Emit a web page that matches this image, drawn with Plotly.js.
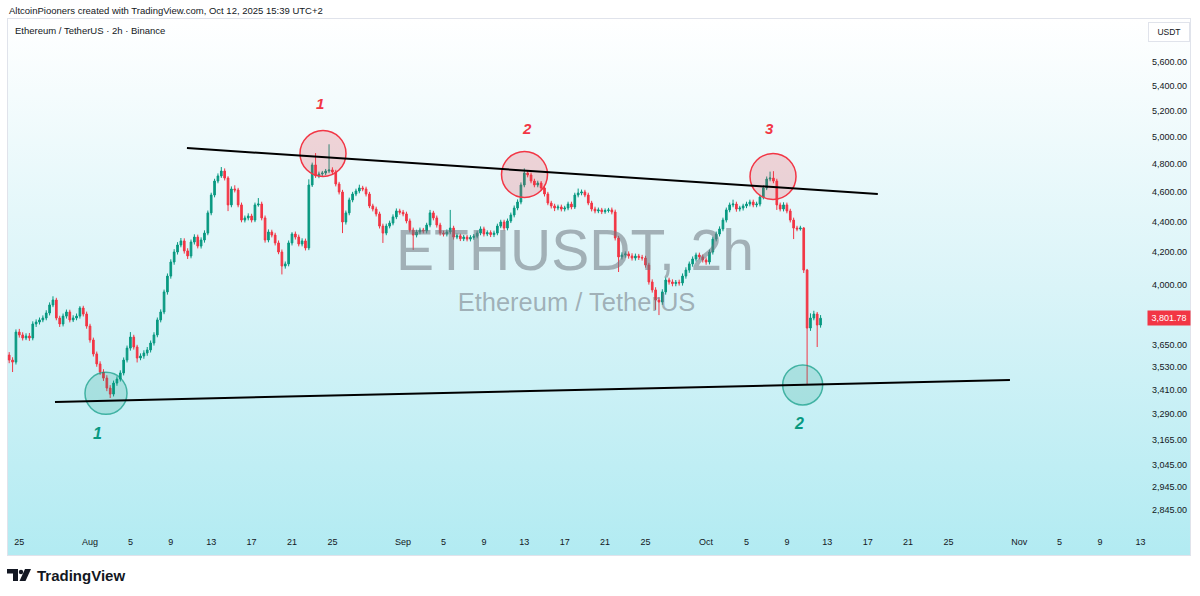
<!DOCTYPE html>
<html><head><meta charset="utf-8">
<script src="https://cdn.plot.ly/plotly-3.0.1.min.js"></script>
<style>
html,body{margin:0;padding:0;background:#ffffff;width:1200px;height:596px;overflow:hidden;}
#frame{position:absolute;left:7px;top:18px;width:1184px;height:538px;box-sizing:border-box;border:1px solid #e0e3eb;
background:linear-gradient(to bottom,#ffffff 0%,#daf4f8 50%,#b2ebf2 100%);}
#chart{position:absolute;left:0;top:0;width:1200px;height:596px;}
</style></head><body>
<div id="frame"></div><div id="chart"></div>
<script>
// ---- Data (ETHUSDT, 8h candles) ----
const START_TIME = Date.UTC(2025, 6, 24, 0, 0);
const STEP_HOURS = 8;
const OPEN = [3596,3569,3558,3723,3707,3690,3701,3690,3769,3780,
3792,3803,3832,3879,3908,3803,3769,3814,3838,3792,
3803,3814,3861,3826,3757,3679,3602,3548,3505,3473,
3421,3390,3447,3468,3500,3569,3634,3695,3640,3580,
3591,3607,3624,3662,3707,3792,3838,3956,4052,4139,
4202,4247,4273,4209,4177,4266,4298,4240,4279,4324,
4458,4580,4678,4714,4749,4699,4512,4622,4615,4512,
4410,4424,4437,4410,4512,4518,4424,4279,4331,4311,
4260,4202,4114,4127,4260,4318,4298,4253,4273,4228,
4650,4793,4714,4728,4735,4749,4757,4742,4657,4601,
4397,4458,4546,4587,4608,4629,4622,4587,4505,4484,
4451,4370,4324,4370,4390,4431,4471,4462,4451,4404,
4344,4311,4331,4344,4338,4377,4458,4424,4377,4324,
4318,4331,4357,4298,4306,4287,4298,4285,4296,4304,
4324,4351,4318,4327,4314,4324,4370,4397,4357,4404,
4444,4491,4532,4650,4735,4721,4678,4650,4664,4629,
4587,4525,4505,4491,4498,4484,4491,4518,4498,4580,
4594,4601,4580,4525,4484,4471,4478,4466,4474,4478,
4464,4292,4171,4183,4190,4177,4164,4176,4168,4164,
4120,4016,3968,3908,3896,3956,4028,4016,4006,4014,
4010,4052,4089,4127,4158,4183,4171,4152,4139,4202,
4285,4318,4351,4410,4478,4512,4518,4484,4491,4505,
4518,4532,4512,4518,4566,4629,4692,4699,4678,4512,
4484,4512,4471,4410,4357,4351,4357,4089,3746,3803,
3826,3763];
const HIGH = [3612,3584,3738,3741,3722,3716,3718,3784,3795,3806,
3818,3848,3894,3930,3921,3816,3829,3852,3851,3819,
3829,3872,3874,3840,3770,3692,3615,3562,3520,3488,
3436,3460,3482,3514,3583,3648,3723,3708,3652,3605,
3622,3640,3676,3722,3806,3853,3970,4068,4156,4220,
4265,4292,4290,4226,4282,4316,4314,4296,4342,4474,
4596,4694,4732,4778,4768,4712,4640,4648,4630,4528,
4440,4455,4452,4528,4559,4534,4440,4348,4346,4326,
4276,4218,4142,4276,4330,4334,4314,4290,4288,4690,
4810,4880,4745,4750,4764,4945,4776,4758,4672,4616,
4474,4562,4602,4624,4652,4644,4638,4602,4520,4500,
4466,4386,4386,4406,4448,4488,4486,4478,4466,4420,
4360,4346,4360,4358,4392,4478,4472,4440,4392,4340,
4348,4478,4372,4322,4320,4312,4312,4310,4318,4340,
4368,4366,4342,4342,4340,4386,4412,4412,4420,4460,
4508,4550,4668,4768,4752,4738,4694,4680,4678,4644,
4602,4540,4520,4514,4514,4506,4534,4534,4596,4625,
4618,4616,4596,4540,4500,4494,4492,4488,4492,4494,
4480,4306,4200,4206,4206,4194,4192,4190,4184,4178,
4134,4032,3984,3924,3972,4044,4042,4032,4028,4030,
4068,4106,4142,4174,4198,4198,4186,4168,4218,4300,
4334,4368,4426,4494,4528,4548,4534,4506,4520,4534,
4548,4548,4534,4582,4646,4710,4745,4748,4694,4528,
4530,4528,4486,4426,4372,4372,4364,4096,3830,3845,
3838,3820];
const LOW = [3552,3505,3545,3692,3676,3678,3674,3677,3752,3766,
3779,3790,3818,3866,3790,3752,3755,3800,3778,3780,
3790,3800,3812,3742,3664,3588,3533,3490,3458,3405,
3370,3378,3433,3455,3487,3556,3620,3626,3556,3568,
3576,3592,3610,3648,3694,3778,3825,3940,4036,4122,
4186,4232,4192,4158,4162,4250,4225,4224,4262,4310,
4442,4564,4662,4700,4682,4470,4496,4598,4496,4395,
4394,4408,4394,4396,4500,4408,4262,4264,4296,4244,
4188,4062,4098,4112,4244,4282,4238,4238,4212,4214,
4636,4700,4698,4712,4720,4734,4726,4640,4584,4324,
4380,4442,4530,4572,4592,4606,4570,4490,4468,4434,
4354,4260,4310,4355,4375,4416,4446,4435,4388,4328,
4215,4296,4316,4322,4322,4362,4408,4360,4308,4302,
4302,4316,4282,4284,4272,4272,4270,4270,4281,4290,
4310,4302,4304,4298,4298,4310,4356,4342,4342,4390,
4428,4476,4516,4634,4704,4662,4634,4634,4612,4570,
4510,4488,4470,4476,4468,4468,4476,4482,4484,4564,
4578,4565,4510,4468,4455,4456,4450,4452,4460,4448,
4276,4077,4155,4166,4160,4148,4148,4152,4148,4104,
4000,3952,3850,3820,3880,3940,4000,3990,3990,3994,
3994,4036,4072,4110,4142,4156,4136,4122,4124,4186,
4270,4302,4336,4394,4462,4496,4466,4468,4474,4490,
4502,4496,4496,4502,4550,4614,4676,4662,4478,4468,
4468,4455,4394,4285,4336,4340,4071,3437,3730,3790,
3640,3748];
const CLOSE = [3569,3558,3723,3707,3690,3701,3690,3769,3780,3792,
3803,3832,3879,3908,3803,3769,3814,3838,3792,3803,
3814,3861,3826,3757,3679,3602,3548,3505,3473,3421,
3390,3447,3468,3500,3569,3634,3695,3640,3580,3591,
3607,3624,3662,3707,3792,3838,3956,4052,4139,4202,
4247,4273,4209,4177,4266,4298,4240,4279,4324,4458,
4580,4678,4714,4749,4699,4512,4622,4615,4512,4410,
4424,4437,4410,4512,4518,4424,4279,4331,4311,4260,
4202,4114,4127,4260,4318,4298,4253,4273,4228,4650,
4793,4714,4728,4735,4749,4757,4742,4657,4601,4397,
4458,4546,4587,4608,4629,4622,4587,4505,4484,4451,
4370,4324,4370,4390,4431,4471,4462,4451,4404,4344,
4311,4331,4344,4338,4377,4458,4424,4377,4324,4318,
4331,4357,4298,4306,4287,4298,4285,4296,4304,4324,
4351,4318,4327,4314,4324,4370,4397,4357,4404,4444,
4491,4532,4650,4735,4721,4678,4650,4664,4629,4587,
4525,4505,4491,4498,4484,4491,4518,4498,4580,4594,
4601,4580,4525,4484,4471,4478,4466,4474,4478,4464,
4292,4171,4183,4190,4177,4164,4176,4168,4164,4120,
4016,3968,3908,3896,3956,4028,4016,4006,4014,4010,
4052,4089,4127,4158,4183,4171,4152,4139,4202,4285,
4318,4351,4410,4478,4512,4518,4484,4491,4505,4518,
4532,4512,4518,4566,4629,4692,4699,4678,4512,4484,
4512,4471,4410,4357,4351,4357,4089,3746,3803,3826,
3763,3801.78];
const LAST_PRICE = 3801.78;

// axis ticks
const X_TICK_VALS = ['2025-07-25','2025-08-01','2025-08-05','2025-08-09','2025-08-13','2025-08-17','2025-08-21','2025-08-25',
 '2025-09-01','2025-09-05','2025-09-09','2025-09-13','2025-09-17','2025-09-21','2025-09-25',
 '2025-10-01','2025-10-05','2025-10-09','2025-10-13','2025-10-17','2025-10-21','2025-10-25',
 '2025-11-01','2025-11-05','2025-11-09','2025-11-13'];
const X_TICK_TEXT = ['25','Aug','5','9','13','17','21','25','Sep','5','9','13','17','21','25','Oct','5','9','13','17','21','25','Nov','5','9','13'];
const Y_TICK_VALS = [5600,5400,5200,5000,4800,4600,4400,4200,4000,3650,3530,3410,3290,3165,3045,2945,2845];
const X_RANGE = ['2025-07-23 18:46','2025-11-13 13:18'];
const Y_RANGE = [2760.5, 5985];

// drawings
const TOP_LINE_TIMES = ['2025-08-10 14:24','2025-10-18 00:00'];
const TOP_LINE_PRICES = [4917, 4587];
const BOTTOM_LINE_TIMES = ['2025-07-28 12:45','2025-10-31 02:00'];
const BOTTOM_LINE_PRICES = [3350, 3463];
const RED_CIRCLE_TIMES = ['2025-08-24 01:40','2025-09-13 00:30','2025-10-07 15:00'];
const RED_CIRCLE_PRICES = [4877, 4724, 4710];
const TEAL_CIRCLE_TIMES = ['2025-08-02 14:00','2025-10-10 13:30'];
const TEAL_CIRCLE_PRICES = [3394, 3437];
const RED_LABELS = ['1','2','3'];
const RED_LABEL_TIMES = ['2025-08-23 18:30','2025-09-13 06:30','2025-10-07 05:30'];
const RED_LABEL_PRICES = [5256, 5068, 5061];
const TEAL_LABELS = ['1','2'];
const TEAL_LABEL_TIMES = ['2025-08-01 16:40','2025-10-10 04:50'];
const TEAL_LABEL_PRICES = [3196, 3245];

// ---- build ----
const TIMES = OPEN.map((_, i) => new Date(START_TIME + i * STEP_HOURS * 3600000).toISOString().slice(0,16).replace('T',' '));
const fmt = v => v.toLocaleString('en-US',{minimumFractionDigits:2, maximumFractionDigits:2});

const UP = '#089981', DOWN = '#f23645';
const FONT = '"Liberation Sans", Arial, sans-serif';

// pixel helpers for chrome (outside the plotting area)
const PL = 7, PR = 1146, PT = 18, PB = 530;
const px = x => (x - PL) / (PR - PL);
const py = y => (PB - y) / (PB - PT);

const traces = [
  {type:'scatter', mode:'text', x:['2025-09-18 00:30'], y:[4177], text:['ETHUSDT, 2h'],
   textposition:'middle center', textfont:{family:FONT, size:57, color:'rgba(112,118,128,0.55)'}, hoverinfo:'skip', cliponaxis:false},
  {type:'scatter', mode:'text', x:['2025-09-18 04:00'], y:[3879], text:['Ethereum / TetherUS'],
   textposition:'middle center', textfont:{family:FONT, size:25.5, color:'rgba(112,118,128,0.55)'}, hoverinfo:'skip', cliponaxis:false},
  {type:'candlestick', x:TIMES, open:OPEN, high:HIGH, low:LOW, close:CLOSE,
   increasing:{line:{color:UP, width:1}, fillcolor:UP},
   decreasing:{line:{color:DOWN, width:1}, fillcolor:DOWN},
   whiskerwidth:0, hoverinfo:'skip'},
  {type:'scatter', mode:'markers', x:RED_CIRCLE_TIMES, y:RED_CIRCLE_PRICES, hoverinfo:'skip', cliponaxis:false,
   marker:{symbol:'circle', size:46, color:'rgba(242,54,69,0.2)', line:{color:'#f23645', width:1.5}}},
  {type:'scatter', mode:'markers', x:TEAL_CIRCLE_TIMES, y:TEAL_CIRCLE_PRICES, hoverinfo:'skip', cliponaxis:false,
   marker:{symbol:'circle', size:[42,40], color:'rgba(8,153,129,0.25)', line:{color:'#089981', width:1.5}}}
];

const shapes = [
  {type:'line', xref:'x', yref:'y', x0:TOP_LINE_TIMES[0], x1:TOP_LINE_TIMES[1], y0:TOP_LINE_PRICES[0], y1:TOP_LINE_PRICES[1], line:{color:'#000000', width:2}},
  {type:'line', xref:'x', yref:'y', x0:BOTTOM_LINE_TIMES[0], x1:BOTTOM_LINE_TIMES[1], y0:BOTTOM_LINE_PRICES[0], y1:BOTTOM_LINE_PRICES[1], line:{color:'#000000', width:2}}
];
// TradingView logo
const path = pts => 'M' + pts.map(p => px(p[0]) + ',' + py(p[1])).join(' L') + ' Z';
shapes.push({type:'path', xref:'paper', yref:'paper', path:path([[7,569],[18,569],[18,581],[13,581],[13,573.5],[7,573.5]]), fillcolor:'#131722', line:{width:0}});
shapes.push({type:'circle', xref:'paper', yref:'paper', x0:px(18.8), x1:px(23.2), y0:py(574.2), y1:py(569.8), fillcolor:'#131722', line:{width:0}});
shapes.push({type:'path', xref:'paper', yref:'paper', path:path([[25,569],[31,569],[25.5,581],[19.5,581]]), fillcolor:'#131722', line:{width:0}});

const annotations = [
  {xref:'paper', yref:'paper', x:px(7), y:py(10), xanchor:'left', yanchor:'middle', showarrow:false,
   text:'AltcoinPiooners created with TradingView.com, Oct 12, 2025 15:39 UTC+2', font:{family:FONT, size:9.5, color:'#131722'}},
  {xref:'paper', yref:'paper', x:px(13), y:py(30), xanchor:'left', yanchor:'middle', showarrow:false,
   text:'Ethereum / TetherUS · 2h · Binance', font:{family:FONT, size:9.5, color:'#131722'}},
  {xref:'paper', yref:'paper', x:px(1169), y:py(32), xanchor:'center', yanchor:'middle', showarrow:false,
   text:'USDT', font:{family:FONT, size:8.5, color:'#131722'}, bgcolor:'#ffffff', bordercolor:'#e0e3eb', borderwidth:1, borderpad:4, width:32},
  {xref:'paper', yref:'paper', x:px(35), y:py(575), xanchor:'left', yanchor:'middle', showarrow:false,
   text:'<b>TradingView</b>', font:{family:FONT, size:15, color:'#131722'}},
  {xref:'paper', yref:'y', x:1, xshift:1, y:Math.log10(LAST_PRICE), xanchor:'left', yanchor:'middle', showarrow:false,
   text:fmt(LAST_PRICE), font:{family:FONT, size:9, color:'#ffffff'}, bgcolor:'#f23645', borderpad:2, width:38}
];
RED_LABELS.forEach((t, i) => annotations.push({xref:'x', yref:'y', x:RED_LABEL_TIMES[i], y:Math.log10(RED_LABEL_PRICES[i]),
  text:'<b><i>' + t + '</i></b>', showarrow:false, font:{family:FONT, size:15, color:'#f23645'}}));
TEAL_LABELS.forEach((t, i) => annotations.push({xref:'x', yref:'y', x:TEAL_LABEL_TIMES[i], y:Math.log10(TEAL_LABEL_PRICES[i]),
  text:'<b><i>' + t + '</i></b>', showarrow:false, font:{family:FONT, size:16, color:'#089981'}}));

const layout = {
  width:1200, height:596,
  margin:{l:PL, r:1200-PR, t:PT, b:596-PB, pad:0},
  paper_bgcolor:'rgba(0,0,0,0)', plot_bgcolor:'rgba(0,0,0,0)',
  showlegend:false, dragmode:false,
  font:{family:FONT, color:'#131722', size:9},
  xaxis:{type:'date', range:X_RANGE, rangeslider:{visible:false}, showgrid:false, zeroline:false, showline:false,
    ticks:'', tickmode:'array', tickvals:X_TICK_VALS, ticktext:X_TICK_TEXT, tickfont:{family:FONT, size:9, color:'#131722'}, ticklabelstandoff:5},
  yaxis:{type:'log', side:'right', range:[Math.log10(Y_RANGE[0]), Math.log10(Y_RANGE[1])], showgrid:false, zeroline:false, showline:false,
    ticks:'', tickmode:'array', tickvals:Y_TICK_VALS, ticktext:Y_TICK_VALS.map(fmt), tickfont:{family:FONT, size:9, color:'#131722'}, ticklabelstandoff:5},
  shapes:shapes, annotations:annotations
};

Plotly.newPlot('chart', traces, layout, {staticPlot:true, displayModeBar:false});
</script></body></html>
